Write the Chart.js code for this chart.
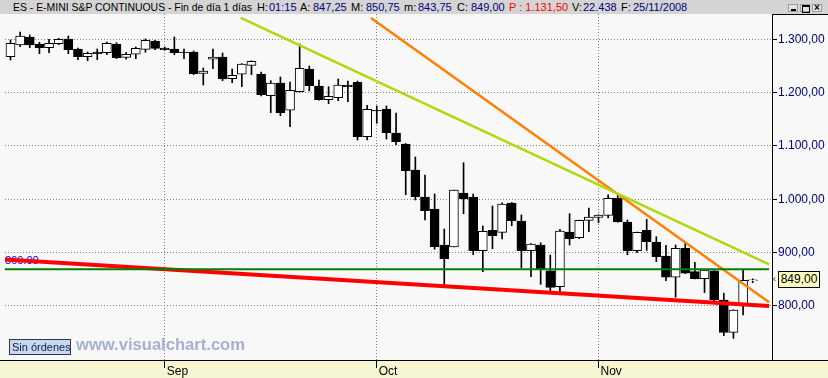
<!DOCTYPE html>
<html><head><meta charset="utf-8">
<script src="https://cdn.jsdelivr.net/npm/chart.js@4.4.0/dist/chart.umd.min.js"></script>
<style>
html,body{margin:0;padding:0;}
body{width:828px;height:378px;position:relative;overflow:hidden;background:#f8f8f8;font-family:"Liberation Sans",Arial,sans-serif;}
#titlebar{position:absolute;left:0;top:0;width:828px;height:14px;background:#d4d4d4;z-index:3;}
#titlebar span{position:absolute;top:0;font-size:11px;line-height:14px;white-space:nowrap;color:#000;}
#titlebar span.v{color:#000080;}
#titlebar span.r{color:#ff0000;}
#tmain{transform-origin:0 0;}
.btn{position:absolute;top:4px;width:10px;height:8px;border:1px solid #9a9a9a;background:#e4e4e4;box-sizing:border-box;}
#bottomband{position:absolute;left:0;top:360px;width:828px;height:18px;background:#f6f6d2;border-top:1px solid #000;box-sizing:border-box;}
#frameTop{position:absolute;left:772px;top:14px;width:56px;height:1px;background:#000;z-index:3;}
#c{position:absolute;left:0;top:0;z-index:1;}
#lvl{position:absolute;left:5px;top:253px;font-size:11px;line-height:14px;color:#0000ff;z-index:0;}
#tag{position:absolute;left:778px;top:271px;width:42px;height:17px;box-sizing:border-box;border:1px solid #000;background:#ffffc0;font-size:12px;line-height:15px;text-align:center;color:#000;z-index:3;}
#arrow{position:absolute;left:773px;top:273px;font-size:9px;line-height:12px;color:#000;z-index:3;}
#orders{position:absolute;left:9px;top:339px;width:62px;height:16px;box-sizing:border-box;border:1px solid #303850;background:#c8d6f0;font-size:11px;line-height:14px;color:#102040;padding-left:2px;white-space:nowrap;z-index:3;}
#www{position:absolute;left:76px;top:335px;font-size:16px;line-height:20px;font-weight:bold;color:#a8b0d2;white-space:nowrap;transform-origin:0 0;z-index:3;}
</style></head>
<body>
<div id="titlebar">
  <span id="tmain" style="left:13px">ES - E-MINI S&amp;P CONTINUOUS - Fin de día 1 días</span>
  <span style="left:257px">H:</span><span class="v" style="left:269px">01:15</span>
  <span style="left:300px">A:</span><span class="v" style="left:313px">847,25</span>
  <span style="left:351px">M:</span><span class="v" style="left:366px">850,75</span>
  <span style="left:404px">m:</span><span class="v" style="left:418px">843,75</span>
  <span style="left:457px">C:</span><span class="v" style="left:471px">849,00</span>
  <span class="r" style="left:509px">P : 1.131,50</span>
  <span style="left:572px">V:</span><span class="v" style="left:583px">22.438</span>
  <span style="left:621px">F:</span><span class="v" style="left:633px">25/11/2008</span>
  <div class="btn" style="left:788px"><div style="position:absolute;left:2px;top:4px;width:5px;height:2px;background:#000"></div></div>
  <div class="btn" style="left:800px"><div style="position:absolute;left:1px;top:0px;width:6px;height:5px;border:1px solid #000;border-top-width:2px"></div></div>
  <div class="btn" style="left:812px;font-size:10px;line-height:6px;text-align:center;font-weight:bold">×</div>
</div>
<div id="frameTop"></div>
<div id="bottomband"></div>
<div id="lvl">869.00</div>
<canvas id="c" width="828" height="378"></canvas>
<div id="arrow">&lsaquo;</div>
<div id="tag">849,00</div>
<div id="orders">Sin órdenes</div>
<div id="www">www.visualchart.com</div>
<script>
// ---- data ----
const dates = [
 '2008-08-08','2008-08-11','2008-08-12','2008-08-13','2008-08-14','2008-08-15','2008-08-18','2008-08-19','2008-08-20','2008-08-21','2008-08-22','2008-08-25','2008-08-26','2008-08-27','2008-08-28','2008-08-29',
 '2008-09-01','2008-09-02','2008-09-03','2008-09-04','2008-09-05','2008-09-08','2008-09-09','2008-09-10','2008-09-11','2008-09-12','2008-09-15','2008-09-16','2008-09-17','2008-09-18','2008-09-19','2008-09-22','2008-09-23','2008-09-24','2008-09-25','2008-09-26','2008-09-29','2008-09-30',
 '2008-10-01','2008-10-02','2008-10-03','2008-10-06','2008-10-07','2008-10-08','2008-10-09','2008-10-10','2008-10-13','2008-10-14','2008-10-15','2008-10-16','2008-10-17','2008-10-20','2008-10-21','2008-10-22','2008-10-23','2008-10-24','2008-10-27','2008-10-28','2008-10-29','2008-10-30','2008-10-31',
 '2008-11-03','2008-11-04','2008-11-05','2008-11-06','2008-11-07','2008-11-10','2008-11-11','2008-11-12','2008-11-13','2008-11-14','2008-11-17','2008-11-18','2008-11-19','2008-11-20','2008-11-21','2008-11-24','2008-11-25'
];
const opens = [1267.4,1289.3,1304.3,1291.2,1284.2,1291.8,1300.6,1281.8,1267.4,1276.2,1274.9,1291.2,1266.2,1271.9,1281.2,1296.8,
 1283.7,1281.8,1276.0,1276.2,1236.2,1262.5,1266.8,1226.1,1234.4,1251.2,1234.9,1194.2,1218.0,1166.9,1201.8,1244.3,1212.4,1186.8,1190.5,1214.3,1219.4,1117.4,
 1166.9,1169.3,1124.3,1103.7,1054.9,1004.3,981.8,914.3,910.5,1011.8,1004.3,903.6,941.9,938.1,993.1,959.3,903.6,914.3,866.1,836.1,938.7,928.0,960.6,
 966.2,970.0,1001.9,957.4,903.6,941.9,919.9,893.7,853.8,908.7,864.3,851.1,866.1,811.2,750.6,800.5,847.25];
const highs = [1298.7,1313.7,1308.1,1294.4,1300.0,1301.9,1306.2,1283.7,1276.2,1281.8,1294.9,1293.6,1275.6,1285.6,1300.6,1298.1,
 1285.6,1304.3,1281.8,1278.1,1246.2,1281.8,1274.3,1244.3,1254.5,1259.5,1238.7,1222.4,1229.3,1219.9,1291.2,1249.9,1223.7,1211.1,1225.6,1221.8,1221.8,1176.3,
 1174.9,1174.9,1161.8,1104.5,1079.3,1045.6,1009.9,944.3,1017.4,1068.6,1009.9,949.9,987.4,993.6,994.0,970.6,917.0,918.6,895.6,943.8,973.0,961.0,983.7,
 971.0,1008.6,1009.4,961.2,938.5,962.4,929.9,913.8,914.3,918.6,881.9,868.0,866.5,823.8,793.0,867.4,850.75];
const lows = [1261.2,1286.1,1284.2,1273.0,1274.9,1289.9,1273.0,1261.8,1259.9,1261.8,1271.1,1263.6,1262.5,1263.6,1275.6,1280.5,
 1279.4,1271.1,1263.6,1233.6,1214.3,1244.9,1222.4,1218.6,1211.1,1233.6,1193.7,1162.4,1156.8,1136.1,1201.0,1203.1,1186.0,1179.3,1184.9,1183.0,1111.2,1111.2,
 1142.5,1113.0,1102.4,1008.6,998.7,961.2,906.3,836.1,910.5,973.0,896.1,864.3,907.4,925.6,950.5,871.8,854.9,840.6,826.8,826.8,914.3,926.1,939.3,
 956.1,964.9,957.0,896.1,899.9,904.4,883.0,847.4,816.3,860.5,850.5,825.0,805.0,744.3,739.4,783.0,843.75];
const closes = [1292.5,1306.2,1289.3,1284.2,1292.5,1300.0,1280.5,1267.4,1273.8,1273.0,1292.5,1265.5,1271.9,1283.1,1298.1,1283.1,
 1280.5,1274.9,1275.0,1235.5,1240.6,1266.8,1225.6,1232.5,1253.7,1258.8,1196.1,1218.0,1162.4,1204.4,1245.6,1213.0,1186.8,1193.1,1214.3,1211.1,1117.4,1168.8,
 1165.6,1124.9,1108.0,1053.6,1004.9,978.6,911.1,888.6,1017.4,1001.1,903.6,940.0,931.8,991.2,959.9,903.6,916.2,868.8,835.0,940.6,926.1,960.6,966.8,
 970.6,1001.9,958.0,903.6,938.1,920.5,892.4,853.8,908.1,861.3,851.1,867.4,811.2,750.6,792.4,848.1,849.00];
const priceTicks = [800, 900, 1000, 1100, 1200, 1300];
const monthNames = {'09':'Sep','10':'Oct','11':'Nov'};
// drawn trend lines: [bar index, price] anchors
const redLineX = [-0.57, 78.7],  redLineY = [887.1, 800.0];
const greenLineX = [-0.57, 78.7], greenLineY = [869.0, 869.0];
const limeLineX = [23.9, 78.7],  limeLineY = [1340.0, 877.8];
const orangeLineX = [37.4, 78.7], orangeLineY = [1340.0, 806.9];

// ---- derived ----
const idx = dates.map((d, i) => i);
const monthIdx = idx.filter(i => i > 0 && dates[i].slice(5, 7) !== dates[i - 1].slice(5, 7));
function fmtPrice(v) {
  const [ip, dp] = v.toFixed(2).split('.');
  return ip.replace(/\B(?=(\d{3})+(?!\d))/g, '.') + ',' + dp;
}
const pts = (xs, ys) => xs.map((x, i) => ({x: x, y: ys[i]}));
const lineDs = (xs, ys, color, w) => ({type: 'line', data: pts(xs, ys), borderColor: color, borderWidth: w,
  pointRadius: 0, tension: 0, fill: false, order: 0, borderCapStyle: 'butt'});

new Chart(document.getElementById('c').getContext('2d'), {
  type: 'bar',
  data: {
    datasets: [
      {type: 'bar', data: idx.map(i => ({x: i, y: [lows[i], highs[i]]})), backgroundColor: '#000',
        borderWidth: 0, barThickness: 1, grouped: false, order: 3},
      {type: 'bar', data: idx.map(i => ({x: i, y: [opens[i], closes[i]]})),
        backgroundColor: c => closes[c.dataIndex] >= opens[c.dataIndex] ? '#ffffff' : '#000000',
        borderColor: '#000', borderWidth: 1, borderSkipped: false, barThickness: 9, grouped: false, order: 2},
      lineDs(greenLineX, greenLineY, '#008000', 2),
      lineDs(redLineX, redLineY, '#ff0000', 4),
      lineDs(limeLineX, limeLineY, '#b0d80a', 2.5),
      lineDs(orangeLineX, orangeLineY, '#ff8000', 2.5)
    ]
  },
  options: {
    responsive: false, animation: false, devicePixelRatio: 1,
    layout: {padding: {top: 14, left: 5, right: 0, bottom: 0}},
    plugins: {legend: {display: false}, tooltip: {enabled: false}},
    scales: {
      x: {
        type: 'linear', min: -0.57, max: 79.0, position: 'bottom', offset: false,
        afterBuildTicks: s => { s.ticks = monthIdx.map(v => ({value: v})); },
        afterFit: s => { s.height = 18; },
        ticks: {
          callback: v => monthNames[dates[v].slice(5, 7)],
          color: '#000', font: {family: 'Liberation Sans', size: 12, lineHeight: 1},
          align: 'start', maxRotation: 0, autoSkip: false, padding: -2, labelOffset: 2
        },
        grid: {offset: false, color: '#808080', lineWidth: 1, drawTicks: true, tickLength: 8, tickColor: '#000', tickBorderDash: [], tickWidth: 1},
        border: {display: false, dash: [1, 2]}
      },
      y: {
        type: 'linear', position: 'right', min: 698.7, max: 1347.4,
        afterBuildTicks: s => { s.ticks = priceTicks.map(v => ({value: v})); },
        afterFit: s => { s.width = 56; },
        ticks: {callback: v => fmtPrice(v), color: '#000080', font: {family: 'Liberation Sans', size: 12}, padding: 1},
        grid: {offset: false, color: '#808080', lineWidth: 1, drawTicks: true, tickLength: 5, tickColor: '#000', tickBorderDash: [], tickWidth: 1},
        border: {display: true, color: '#000', width: 1, dash: [1, 2]}
      }
    }
  }
});

function fitWidth(el, w) {
  const cur = el.getBoundingClientRect().width;
  if (cur > 0) el.style.transform = 'scaleX(' + (w / cur) + ')';
}
fitWidth(document.getElementById('tmain'), 239);
fitWidth(document.getElementById('www'), 169);
</script>
</body></html>
